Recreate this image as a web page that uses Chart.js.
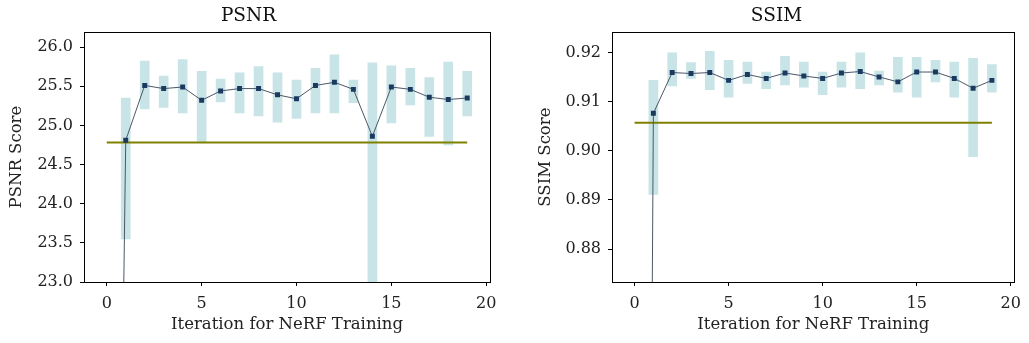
<!DOCTYPE html>
<html>
<head>
<meta charset="utf-8">
<script src="https://cdn.jsdelivr.net/npm/chart.js@4/dist/chart.umd.min.js"></script>
<style>
  html, body { margin: 0; padding: 0; background: #fff; }
  #wrap { position: relative; width: 1029px; height: 343px; }
  canvas { position: absolute; top: 0; }
</style>
</head>
<body>
<div id="wrap">
  <canvas id="psnrChart" width="514" height="343" style="left:0"></canvas>
  <canvas id="ssimChart" width="515" height="343" style="left:514px"></canvas>
</div>
<script>
// iterations 0..19
var iterations = [0, 1, 2, 3, 4, 5, 6, 7, 8, 9, 10, 11, 12, 13, 14, 15, 16, 17, 18, 19];

// PSNR: mean per iteration, and the low/high of the shaded range
var psnrMean = [7.0, 24.81, 25.51, 25.47, 25.49, 25.32, 25.44, 25.47, 25.47, 25.39, 25.34, 25.51, 25.55, 25.46, 24.86, 25.49, 25.46, 25.36, 25.33, 25.35];
var psnrLow  = [5.0, 23.55, 25.21, 25.23, 25.16, 24.79, 25.30, 25.16, 25.12, 25.04, 25.09, 25.16, 25.16, 25.29, 22.60, 25.03, 25.26, 24.86, 24.75, 25.12];
var psnrHigh = [9.0, 25.35, 25.82, 25.63, 25.84, 25.69, 25.59, 25.67, 25.75, 25.67, 25.58, 25.73, 25.90, 25.58, 25.80, 25.76, 25.73, 25.61, 25.81, 25.69];
var psnrBaseline = 24.78;

// SSIM
var ssimMean = [0.30, 0.9076, 0.9159, 0.9157, 0.9159, 0.9143, 0.9155, 0.9147, 0.9158, 0.9152, 0.9147, 0.9158, 0.9161, 0.9150, 0.9140, 0.9160, 0.9160, 0.9147, 0.9127, 0.9143];
var ssimLow  = [0.25, 0.8911, 0.9132, 0.9147, 0.9124, 0.9109, 0.9137, 0.9126, 0.9134, 0.9129, 0.9114, 0.9129, 0.9126, 0.9134, 0.9119, 0.9109, 0.9140, 0.9109, 0.8988, 0.9119];
var ssimHigh = [0.35, 0.9143, 0.9199, 0.9179, 0.9202, 0.9184, 0.9180, 0.9160, 0.9192, 0.9180, 0.9160, 0.9180, 0.9199, 0.9162, 0.9190, 0.9190, 0.9184, 0.9180, 0.9188, 0.9175];
var ssimBaseline = 0.9057;

// tick labels
var xTicks = [0, 5, 10, 15, 20];
var psnrTicks = [23.0, 23.5, 24.0, 24.5, 25.0, 25.5, 26.0];
var ssimTicks = [0.88, 0.89, 0.90, 0.91, 0.92];

var FONT = "'DejaVu Serif', serif";
Chart.defaults.font.family = FONT;
Chart.defaults.color = '#222';

// box around the plot area (matplotlib spines)
var frame = {
    id: 'frame',
    afterDraw: function(chart) {
        var a = chart.chartArea, c = chart.ctx;
        c.save();
        c.strokeStyle = '#000';
        c.lineWidth = 1;
        c.strokeRect(Math.round(a.left) + 0.5, Math.round(a.top) + 0.5, Math.round(a.right - a.left), Math.round(a.bottom - a.top));
        c.restore();
    }
};

function makeChart(el, cfg) {
    var bars = iterations.map(function(it, i) { return { x: it, y: [cfg.low[i], cfg.high[i]] }; });
    var means = iterations.map(function(it, i) { return { x: it, y: cfg.mean[i] }; });
    var base = [
        { x: iterations[0], y: cfg.baseline },
        { x: iterations[iterations.length - 1], y: cfg.baseline }
    ];

    return new Chart(el, {
        type: 'line',
        data: {
            datasets: [{
                type: 'bar',
                data: bars,
                backgroundColor: 'rgba(176, 216, 220, 0.7)',
                borderWidth: 0,
                barThickness: 9,
                order: 3
            }, {
                type: 'line',
                data: base,
                borderColor: '#808000',
                borderWidth: 2,
                pointRadius: 0,
                order: 2
            }, {
                type: 'line',
                data: means,
                borderColor: '#4a5868',
                borderWidth: 1,
                pointStyle: 'rect',
                pointRadius: 3.5,
                pointBackgroundColor: '#1c3a60',
                pointBorderColor: '#1c3a60',
                pointBorderWidth: 0,
                tension: 0,
                order: 1
            }]
        },
        options: {
            responsive: false,
            animation: false,
            layout: { padding: { left: cfg.padLeft, right: cfg.padRight, top: 0, bottom: 8 } },
            plugins: {
                legend: { display: false },
                tooltip: { enabled: false },
                title: {
                    display: true,
                    text: cfg.title,
                    color: '#111',
                    font: { size: 18.5, weight: 'normal', family: FONT },
                    padding: { top: 5, bottom: 5 }
                }
            },
            scales: {
                x: {
                    type: 'linear',
                    min: -1.2,
                    max: 20.2,
                    offset: false,
                    grid: { display: true, drawOnChartArea: false, offset: false, color: '#000', tickLength: 4 },
                    border: { display: true, color: '#000' },
                    afterBuildTicks: function(s) { s.ticks = xTicks.map(function(v) { return { value: v }; }); },
                    afterFit: function(s) { s.height = 53; },
                    ticks: { font: { size: 16 }, color: '#222', padding: 8, maxRotation: 0 },
                    title: {
                        display: true,
                        text: 'Iteration for NeRF Training',
                        color: '#222',
                        font: { size: 16.5 },
                        padding: { top: 0, bottom: 0 }
                    }
                },
                y: {
                    type: 'linear',
                    min: cfg.yMin,
                    max: cfg.yMax,
                    grid: { display: true, drawOnChartArea: false, color: '#000', tickLength: 4 },
                    border: { display: true, color: '#000' },
                    afterBuildTicks: function(s) { s.ticks = cfg.ticks.map(function(v) { return { value: v }; }); },
                    afterFit: function(s) { s.width = cfg.yWidth; },
                    ticks: {
                        font: { size: 16 },
                        color: '#222',
                        padding: 7,
                        callback: function(v) { return v.toFixed(cfg.decimals); }
                    },
                    title: {
                        display: true,
                        text: cfg.yTitle,
                        color: '#222',
                        font: { size: 16.5 },
                        padding: { top: 0, bottom: 4 }
                    }
                }
            }
        },
        plugins: [frame]
    });
}

makeChart(document.getElementById('psnrChart'), {
    title: 'PSNR', yTitle: 'PSNR Score',
    mean: psnrMean, low: psnrLow, high: psnrHigh, baseline: psnrBaseline,
    yMin: 23.0, yMax: 26.19, ticks: psnrTicks, decimals: 1,
    padLeft: 7, yWidth: 77, padRight: 24
});

makeChart(document.getElementById('ssimChart'), {
    title: 'SSIM', yTitle: 'SSIM Score',
    mean: ssimMean, low: ssimLow, high: ssimHigh, baseline: ssimBaseline,
    yMin: 0.8733, yMax: 0.9241, ticks: ssimTicks, decimals: 2,
    padLeft: 22, yWidth: 76, padRight: 12
});
</script>
</body>
</html>
